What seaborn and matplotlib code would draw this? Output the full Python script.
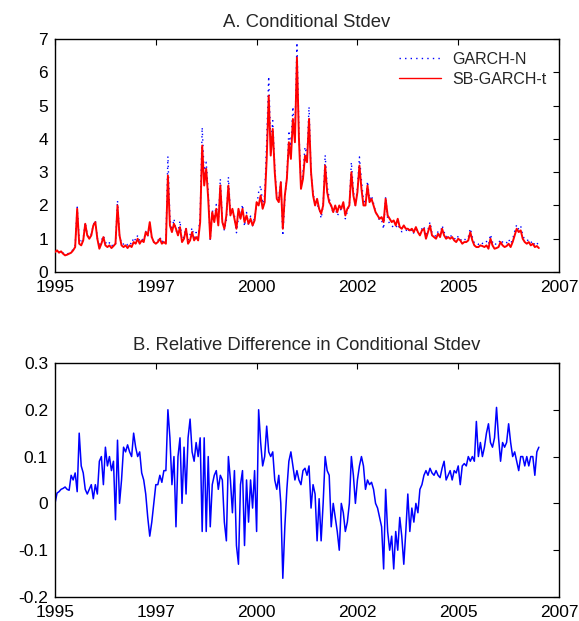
import numpy as np
import pandas as pd
import seaborn as sns
import matplotlib
matplotlib.use("Agg")
import matplotlib.pyplot as plt

# values, one row per year (20 points per year, last point = 2007)
sb_garch_t = [
    0.6, 0.65, 0.58, 0.62, 0.55, 0.5, 0.52, 0.55, 0.58, 0.65, 0.75, 1.9, 0.85, 0.8, 0.95, 1.45, 1.1, 1.0, 1.1, 1.4,
    1.5, 1.0, 0.7, 0.85, 1.05, 0.8, 0.75, 0.8, 0.72, 0.78, 0.85, 2.0, 1.1, 0.8, 0.75, 0.8, 0.72, 0.8, 0.75, 0.9,
    0.85, 1.0, 0.85, 0.95, 0.9, 1.2, 1.1, 1.5, 1.05, 0.9, 0.85, 0.9, 1.0, 0.85, 0.9, 0.85, 2.9, 1.4, 1.2, 1.45,
    1.3, 1.1, 1.35, 0.9, 1.0, 1.3, 0.85, 0.95, 1.2, 0.95, 1.05, 0.95, 1.5, 3.8, 2.6, 3.1, 2.2, 1.0, 1.8, 1.5,
    1.9, 1.4, 2.6, 1.5, 1.3, 1.7, 2.6, 1.7, 1.9, 1.6, 1.3, 1.9, 1.6, 1.9, 1.5, 1.7, 1.45, 1.6, 1.4, 1.55,
    2.1, 2.0, 2.3, 1.9, 2.1, 3.4, 5.3, 3.5, 4.3, 3.0, 2.2, 2.1, 2.7, 1.3, 2.3, 2.8, 3.9, 3.4, 4.6, 3.9,
    6.45, 4.0, 2.5, 2.8, 3.5, 3.3, 4.6, 3.0, 2.3, 2.0, 2.2, 1.9, 1.75, 2.0, 3.2, 2.4, 2.1, 2.0, 1.8, 2.0,
    1.8, 2.0, 1.9, 2.1, 1.7, 1.9, 2.0, 3.0, 2.3, 2.0, 2.4, 3.2, 2.5, 2.0, 2.0, 2.6, 2.1, 2.2, 2.0, 1.8,
    1.7, 1.6, 1.65, 1.5, 2.2, 1.7, 1.6, 1.5, 1.55, 1.4, 1.6, 1.35, 1.3, 1.4, 1.3, 1.3, 1.25, 1.3, 1.2, 1.35,
    1.2, 1.1, 1.25, 1.3, 1.0, 1.2, 1.4, 1.1, 1.05, 1.0, 1.15, 1.05, 1.3, 1.1, 1.0, 1.05, 1.0, 1.05, 0.95, 0.9,
    1.0, 0.95, 0.85, 0.9, 0.9, 0.95, 1.2, 0.95, 0.8, 0.75, 0.75, 0.8, 0.78, 0.75, 0.8, 0.7, 1.0, 0.8, 0.7, 0.72,
    0.75, 0.9, 0.8, 0.75, 0.78, 0.85, 0.75, 0.9, 1.1, 1.3, 1.2, 1.25, 1.0, 0.9, 0.85, 0.9, 0.8, 0.85, 0.75, 0.78,
    0.72,
]

garch_n = [
    0.6, 0.66, 0.59, 0.64, 0.57, 0.52, 0.54, 0.57, 0.61, 0.68, 0.8, 1.95, 0.98, 0.86, 1.01, 1.49, 1.12, 1.03, 1.14, 1.41,
    1.56, 1.02, 0.76, 0.94, 1.09, 0.9, 0.81, 0.88, 0.77, 0.85, 0.82, 2.15, 1.1, 0.84, 0.84, 0.89, 0.81, 0.89, 0.83, 1.04,
    0.95, 1.1, 0.94, 1.01, 0.95, 1.22, 1.07, 1.4, 1.01, 0.9, 0.88, 0.94, 1.06, 0.89, 0.96, 0.91, 3.48, 1.6, 1.25, 1.6,
    1.24, 1.21, 1.54, 0.9, 1.12, 1.33, 0.97, 1.12, 1.33, 1.04, 1.19, 1.05, 1.71, 4.35, 2.96, 3.3, 2.42, 0.95, 1.87, 1.59,
    2.03, 1.44, 2.8, 1.58, 1.25, 1.56, 2.86, 1.79, 1.86, 1.71, 1.18, 1.65, 1.66, 2.03, 1.37, 1.79, 1.39, 1.68, 1.39, 1.66,
    1.97, 2.4, 2.6, 2.05, 2.31, 3.96, 5.88, 3.85, 4.55, 3.15, 2.27, 2.23, 2.7, 1.09, 2.19, 2.88, 4.25, 3.77, 4.97, 4.1,
    6.9, 4.2, 2.6, 3.0, 3.76, 3.5, 4.97, 2.97, 2.39, 2.04, 2.02, 1.92, 1.61, 2.0, 3.52, 2.57, 2.23, 1.9, 1.8, 1.94,
    1.69, 1.8, 1.9, 2.06, 1.6, 1.82, 2.0, 3.3, 2.44, 2.0, 2.52, 3.46, 2.75, 2.16, 2.06, 2.73, 2.18, 2.3, 2.06, 1.8,
    1.68, 1.55, 1.57, 1.29, 2.27, 1.6, 1.44, 1.4, 1.33, 1.32, 1.44, 1.31, 1.21, 1.22, 1.22, 1.33, 1.18, 1.29, 1.15, 1.35,
    1.18, 1.13, 1.3, 1.38, 1.07, 1.27, 1.5, 1.17, 1.11, 1.07, 1.22, 1.11, 1.4, 1.2, 1.05, 1.11, 1.07, 1.1, 1.02, 0.96,
    1.08, 0.99, 0.92, 0.98, 0.97, 1.05, 1.31, 1.05, 0.87, 0.88, 0.83, 0.9, 0.86, 0.84, 0.92, 0.82, 1.13, 0.9, 0.8, 0.87,
    0.86, 0.98, 0.9, 0.84, 0.88, 0.99, 0.85, 0.99, 1.22, 1.42, 1.28, 1.38, 1.1, 0.97, 0.94, 0.97, 0.88, 0.94, 0.8, 0.87,
    0.81,
]

rel_diff = [
    0.0, 0.022, 0.025, 0.03, 0.032, 0.035, 0.03, 0.028, 0.06, 0.05, 0.065, 0.025, 0.15, 0.08, 0.065, 0.03, 0.02, 0.03, 0.04, 0.01,
    0.04, 0.02, 0.09, 0.1, 0.04, 0.12, 0.08, 0.1, 0.07, 0.09, -0.035, 0.135, 0.0, 0.05, 0.12, 0.11, 0.125, 0.11, 0.1, 0.15,
    0.12, 0.1, 0.11, 0.065, 0.05, 0.02, -0.03, -0.07, -0.04, 0.0, 0.04, 0.04, 0.06, 0.045, 0.07, 0.07, 0.2, 0.14, 0.04, 0.1,
    -0.05, 0.1, 0.14, 0.0, 0.12, 0.02, 0.14, 0.18, 0.11, 0.09, 0.13, 0.1, 0.14, -0.06, 0.14, -0.06, 0.1, -0.05, 0.04, 0.06,
    0.07, 0.03, 0.06, 0.05, -0.04, -0.08, 0.1, 0.05, -0.02, 0.07, -0.09, -0.13, 0.04, 0.07, -0.09, 0.05, -0.04, 0.05, -0.01, 0.07,
    -0.06, 0.2, 0.13, 0.08, 0.1, 0.165, 0.11, 0.1, 0.11, 0.05, 0.03, 0.06, 0.0, -0.16, -0.05, 0.03, 0.09, 0.11, 0.08, 0.05,
    0.07, 0.05, 0.04, 0.07, 0.075, 0.06, 0.08, -0.01, 0.04, 0.02, -0.08, 0.01, -0.08, 0.0, 0.1, 0.07, 0.06, -0.05, 0.0, -0.03,
    -0.06, -0.1, 0.0, -0.02, -0.06, -0.04, 0.0, 0.1, 0.06, 0.0, 0.05, 0.08, 0.1, 0.08, 0.03, 0.05, 0.04, 0.045, 0.03, 0.0,
    -0.01, -0.03, -0.05, -0.14, 0.03, -0.06, -0.1, -0.07, -0.14, -0.06, -0.1, -0.03, -0.07, -0.13, -0.06, 0.02, -0.06, -0.01, -0.04, 0.0,
    -0.02, 0.03, 0.04, 0.06, 0.07, 0.06, 0.075, 0.065, 0.06, 0.07, 0.06, 0.055, 0.075, 0.09, 0.05, 0.06, 0.07, 0.05, 0.07, 0.065,
    0.08, 0.04, 0.08, 0.085, 0.08, 0.1, 0.09, 0.1, 0.09, 0.175, 0.1, 0.13, 0.1, 0.12, 0.15, 0.17, 0.13, 0.12, 0.14, 0.205,
    0.14, 0.09, 0.13, 0.12, 0.13, 0.17, 0.13, 0.1, 0.11, 0.09, 0.07, 0.1, 0.1, 0.08, 0.1, 0.08, 0.1, 0.1, 0.06, 0.11,
    0.12,
]

# sample dates as decimal years, 1995 .. 2007
years = np.round(np.linspace(1995.0, 2007.0, len(sb_garch_t)), 3)

xtick_pos = [1995, 1997.5, 2000, 2002.5, 2005, 2007.5]
xtick_labels = ["1995", "1997", "2000", "2002", "2005", "2007"]
top_yticks = [0, 1, 2, 3, 4, 5, 6, 7]
bot_yticks = [-0.2, -0.1, 0, 0.1, 0.2, 0.3]
bot_ylabels = ["-0.2", "-0.1", "0", "0.1", "0.2", "0.3"]

df = pd.DataFrame({"year": years, "GARCH-N": garch_n,
                   "SB-GARCH-t": sb_garch_t, "diff": rel_diff})

sns.set_theme(style="white")
plt.rcParams["font.family"] = ["Liberation Sans", "DejaVu Sans"]
plt.rcParams["xtick.direction"] = "in"
plt.rcParams["ytick.direction"] = "in"

fig = plt.figure(figsize=(5.79, 6.21), dpi=100)
ax1 = fig.add_axes([0.095, 0.562, 0.8705, 0.375])
ax2 = fig.add_axes([0.095, 0.0386, 0.8705, 0.377])

# A. conditional stdev (GARCH-N dotted, mostly hidden under the red line)
sns.lineplot(data=df, x="year", y="GARCH-N", ax=ax1, color="blue",
             linestyle=(0, (1, 3)), linewidth=1.0, label="GARCH-N",
             estimator=None, sort=False, zorder=2)
sns.lineplot(data=df, x="year", y="SB-GARCH-t", ax=ax1, color="red",
             linewidth=1.4, label="SB-GARCH-t", estimator=None, sort=False, zorder=3)
ax1.set_ylim(0, 7)
ax1.set_yticks(top_yticks)
ax1.set_title("A. Conditional Stdev", fontsize=13.3, pad=9)
leg = ax1.legend(loc="upper right", frameon=False, fontsize=11.5,
                 handlelength=2.6, handletextpad=0.7, borderaxespad=0.4,
                 labelspacing=0.3)
for h in leg.get_lines():
    h.set_linewidth(1.0)

# B. relative difference
sns.lineplot(data=df, x="year", y="diff", ax=ax2, color="blue",
             linewidth=1.1, estimator=None, sort=False)
ax2.set_ylim(-0.2, 0.3)
ax2.set_yticks(bot_yticks)
ax2.set_yticklabels(bot_ylabels)
ax2.set_title("B. Relative Difference in Conditional Stdev", fontsize=13.3, pad=9)

for ax in (ax1, ax2):
    ax.set_xlim(1995, 2007.5)
    ax.set_xticks(xtick_pos)
    ax.set_xticklabels(xtick_labels)
    ax.set_xlabel("")
    ax.set_ylabel("")
    ax.tick_params(axis="both", which="both", direction="in", length=4, width=0.8,
                   labelsize=12.5, top=True, right=True, colors="black")
    ax.tick_params(axis="x", pad=6)
    ax.tick_params(axis="y", pad=5)
    for sp in ax.spines.values():
        sp.set_visible(True)
        sp.set_color("black")
        sp.set_linewidth(1.0)

fig.savefig("out.png", dpi=100)
